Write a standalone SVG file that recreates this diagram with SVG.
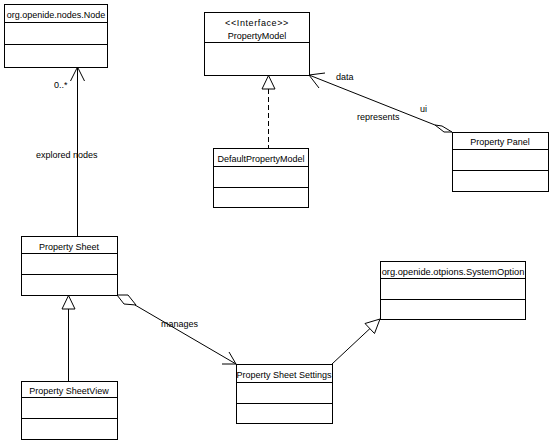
<svg xmlns="http://www.w3.org/2000/svg" width="553" height="444" viewBox="0 0 553 444">
<style>
.box{fill:#fff;stroke:#000;stroke-width:1}
.ln{fill:none;stroke:#000;stroke-width:1}
.hd{fill:#fff;stroke:#000;stroke-width:1}
text{font-family:"Liberation Sans",Arial,sans-serif;font-size:9px;fill:#000}
.c{text-anchor:middle}
</style>
<rect width="553" height="444" fill="#fff"/>
<g id="connectors">
  <!-- explored nodes -->
  <line class="ln" x1="77.5" y1="67" x2="77.5" y2="236"/>
  <polyline class="ln" points="70.5,81 77.5,67 84.5,81"/>
  <text x="54" y="88">0..*</text>
  <text x="36" y="158">explored nodes</text>
  <!-- realization DefaultPropertyModel -> PropertyModel -->
  <line class="ln" x1="268.5" y1="89" x2="268.5" y2="148" stroke-dasharray="5,3"/>
  <polygon class="hd" points="268.5,75.5 262,89 275,89"/>
  <!-- PropertyModel - PropertyPanel -->
  <line class="ln" x1="309" y1="75" x2="435" y2="125"/>
  <polyline class="ln" points="325,73 309,75 319,88"/>
  <polygon class="hd" points="452,132 442,126 435,125 444,132"/>
  <text x="336" y="80">data</text>
  <text x="420" y="112">ui</text>
  <text x="357" y="120">represents</text>
  <!-- generalization PropertySheetView -> PropertySheet -->
  <line class="ln" x1="68.5" y1="309" x2="68.5" y2="381"/>
  <polygon class="hd" points="68.5,295.5 62,309 75,309"/>
  <!-- manages -->
  <line class="ln" x1="135" y1="305" x2="236" y2="364"/>
  <polygon class="hd" points="117,295 128,295 136,305 124,304"/>
  <polyline class="ln" points="229,352 236,364 222,364"/>
  <text x="161" y="327">manages</text>
  <!-- generalization PSS -> SystemOption -->
  <line class="ln" x1="332" y1="364" x2="370" y2="328.5"/>
  <polygon class="hd" points="380,319 365,323.5 374.5,333.5"/>
</g>
<g id="node-Node">
  <rect class="box" x="4.5" y="4.5" width="103" height="63"/>
  <line class="ln" x1="4.5" y1="22.5" x2="107.5" y2="22.5"/>
  <line class="ln" x1="4.5" y1="44.5" x2="107.5" y2="44.5"/>
  <text class="c" x="56" y="18">org.openide.nodes.Node</text>
</g>
<g id="node-PropertyModel">
  <rect class="box" x="204.5" y="12.5" width="105" height="63"/>
  <line class="ln" x1="204.5" y1="42.5" x2="309.5" y2="42.5"/>
  <text class="c" x="257" y="26" style="letter-spacing:0.6px">&lt;&lt;Interface&gt;&gt;</text>
  <text class="c" x="257" y="39">PropertyModel</text>
</g>
<g id="node-DefaultPropertyModel">
  <rect class="box" x="213.5" y="148.5" width="95" height="59"/>
  <line class="ln" x1="213.5" y1="166.5" x2="308.5" y2="166.5"/>
  <line class="ln" x1="213.5" y1="187.5" x2="308.5" y2="187.5"/>
  <text class="c" x="261" y="162">DefaultPropertyModel</text>
</g>
<g id="node-PropertyPanel">
  <rect class="box" x="452.5" y="132.5" width="96" height="59"/>
  <line class="ln" x1="452.5" y1="149.5" x2="548.5" y2="149.5"/>
  <line class="ln" x1="452.5" y1="170.5" x2="548.5" y2="170.5"/>
  <text class="c" x="500" y="145">Property Panel</text>
</g>
<g id="node-PropertySheet">
  <rect class="box" x="21.5" y="236.5" width="96" height="59"/>
  <line class="ln" x1="21.5" y1="253.5" x2="117.5" y2="253.5"/>
  <line class="ln" x1="21.5" y1="274.5" x2="117.5" y2="274.5"/>
  <text class="c" x="69" y="250">Property Sheet</text>
</g>
<g id="node-PropertySheetView">
  <rect class="box" x="21.5" y="381.5" width="96" height="58"/>
  <line class="ln" x1="21.5" y1="397.5" x2="117.5" y2="397.5"/>
  <line class="ln" x1="21.5" y1="418.5" x2="117.5" y2="418.5"/>
  <text class="c" x="69" y="394">Property SheetView</text>
</g>
<g id="node-PropertySheetSettings">
  <rect class="box" x="236.5" y="364.5" width="96" height="59"/>
  <line class="ln" x1="236.5" y1="382.5" x2="332.5" y2="382.5"/>
  <line class="ln" x1="236.5" y1="403.5" x2="332.5" y2="403.5"/>
  <text class="c" x="284" y="378">Property Sheet Settings</text>
</g>
<g id="node-SystemOption">
  <rect class="box" x="380.5" y="261.5" width="145" height="58"/>
  <line class="ln" x1="380.5" y1="278.5" x2="525.5" y2="278.5"/>
  <line class="ln" x1="380.5" y1="299.5" x2="525.5" y2="299.5"/>
  <text class="c" x="453" y="275" style="font-size:9.3px">org.openide.otpions.SystemOption</text>
</g>
</svg>
